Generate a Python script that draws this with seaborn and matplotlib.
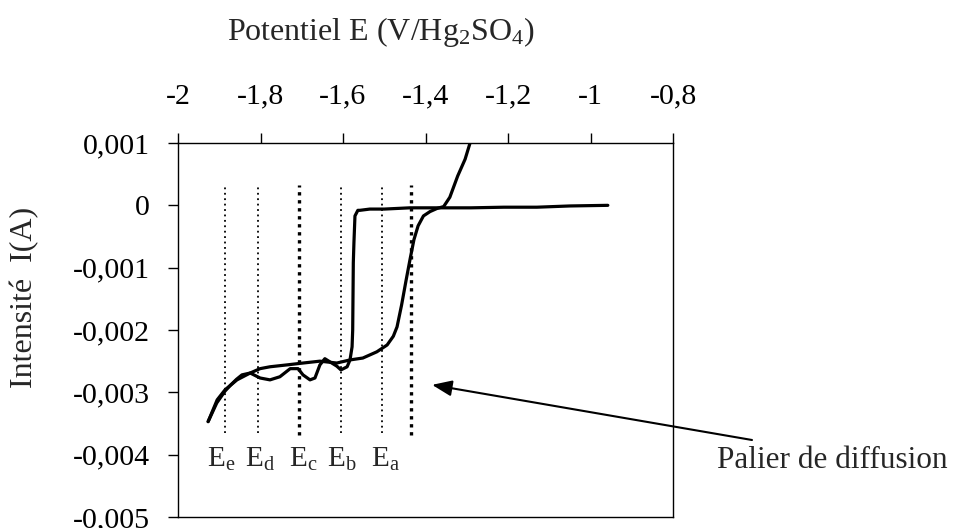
import numpy as np
import pandas as pd
import matplotlib
matplotlib.use("Agg")
import matplotlib.pyplot as plt
import seaborn as sns

# --- données ---------------------------------------------------------------
# balayage aller (de -0,96 V vers -1,93 V)
E_aller = [-0.958, -1.05, -1.13, -1.21, -1.29, -1.358, -1.438, -1.50, -1.535,
           -1.559, -1.564, -1.571, -1.5735, -1.575, -1.5765, -1.578, -1.583,
           -1.590, -1.605, -1.615, -1.632, -1.644, -1.656, -1.668, -1.680,
           -1.697, -1.709, -1.728, -1.753, -1.777, -1.801, -1.825, -1.845,
           -1.858, -1.872, -1.886, -1.906, -1.927]
I_aller = [0.0, -0.00001, -0.00003, -0.00003, -0.00004, -0.00004, -0.00004,
           -0.00006, -0.00006, -0.00008, -0.00008, -0.00017, -0.0006, -0.00092,
           -0.0020, -0.00227, -0.00248, -0.00259, -0.00264, -0.00258, -0.00251,
           -0.00246, -0.00256, -0.00277, -0.0028, -0.00272, -0.00262, -0.00262,
           -0.00275, -0.0028, -0.00277, -0.00269, -0.00272, -0.00279, -0.00288,
           -0.00298, -0.00317, -0.00347]

# balayage retour (de -1,93 V vers l'oxydation)
E_retour = [-1.927, -1.905, -1.886, -1.857, -1.825, -1.801, -1.777, -1.736,
            -1.697, -1.656, -1.615, -1.583, -1.552, -1.518, -1.493, -1.478,
            -1.469, -1.458, -1.447, -1.437, -1.428, -1.418, -1.405, -1.389,
            -1.372, -1.356, -1.341, -1.322, -1.304, -1.292, -1.278]
I_retour = [-0.00347, -0.00312, -0.00296, -0.0028, -0.00269, -0.00262,
            -0.00259, -0.00256, -0.00253, -0.0025, -0.00253, -0.00248,
            -0.00245, -0.00235, -0.00224, -0.00210, -0.00195, -0.0016,
            -0.0012, -0.00085, -0.00055, -0.00033, -0.00017, -0.0001,
            -0.00005, -0.00002, 0.00013, 0.00047, 0.00074, 0.001, 0.00115]

# potentiels imposés
E_fins = [-1.885, -1.805, -1.605, -1.505]
E_gras = [-1.707, -1.435]
noms_E = ["E$_e$", "E$_d$", "E$_c$", "E$_b$", "E$_a$"]
pos_noms_E = [-1.930, -1.838, -1.731, -1.639, -1.532]

x_ticks = [-2.0, -1.8, -1.6, -1.4, -1.2, -1.0, -0.8]
y_ticks = [-0.005, -0.004, -0.003, -0.002, -0.001, 0.0, 0.001]

df = pd.DataFrame({
    "E": E_aller + E_retour,
    "I": I_aller + I_retour,
    "balayage": ["aller"] * len(E_aller) + ["retour"] * len(E_retour),
})

# --- style -----------------------------------------------------------------
sns.set_theme(style="white")
plt.rcParams["font.family"] = ["Liberation Serif", "DejaVu Serif"]
plt.rcParams["mathtext.fontset"] = "custom"
plt.rcParams["mathtext.rm"] = "Liberation Serif"
plt.rcParams["mathtext.it"] = "Liberation Serif"
plt.rcParams["mathtext.default"] = "rm"
plt.rcParams["axes.unicode_minus"] = False

fig = plt.figure(figsize=(9.55, 5.28), dpi=100)
ax = fig.add_axes([178 / 955, 1 - 517 / 528, 495 / 955, (517 - 143) / 528])
ax.set_facecolor("white")

sns.lineplot(data=df, x="E", y="I", units="balayage", estimator=None,
             sort=False, color="black", linewidth=2.3, legend=False, ax=ax)

ax.vlines(E_fins, -0.00366, 0.00032, colors="black", linewidth=1.3,
          linestyles=[(0, (1, 2))])
ax.vlines(E_gras, -0.00369, 0.00033, colors="black", linewidth=2.4,
          linestyles=[(0, (1, 1.4))])

for nom, xe in zip(noms_E, pos_noms_E):
    ax.text(xe, -0.0042, nom, fontsize=21, ha="left", va="baseline")

ax.set_xlim(-2.0, -0.8)
ax.set_ylim(-0.005, 0.001)


def virgule(v):
    return "{:g}".format(v).replace(".", ",")


ax.set_xticks(x_ticks)
ax.set_xticklabels([virgule(v) for v in x_ticks])
ax.set_yticks(y_ticks)
ax.set_yticklabels([virgule(v) for v in y_ticks])
ax.xaxis.tick_top()
ax.tick_params(axis="x", which="both", top=True, bottom=False, direction="out",
               length=7, width=1, pad=17, labelsize=21.5, colors="black")
ax.tick_params(axis="y", left=True, right=False, direction="out",
               length=7, width=1, pad=13, labelsize=21.5, colors="black")
ax.set_xlabel("")
ax.set_ylabel("")
for sp in ax.spines.values():
    sp.set_visible(True)
    sp.set_color("black")
    sp.set_linewidth(1.0)

fig.text(381 / 955, 1 - 32 / 528, "Potentiel E (V/Hg$_2$SO$_4$)",
         fontsize=23, ha="center", va="center")
fig.text(25 / 955, 1 - 297 / 528, "Intensité  I(A)", fontsize=23,
         rotation=90, ha="center", va="center")

ax.annotate("", xy=(-1.384, -0.00288), xycoords="data",
            xytext=(752, 528 - 440), textcoords="figure pixels",
            annotation_clip=False,
            arrowprops=dict(arrowstyle="-|>,head_length=1.0,head_width=0.4",
                            color="black", lw=1.5, shrinkA=0, shrinkB=0))
fig.text(717 / 955, 1 - 468 / 528, "Palier de diffusion", fontsize=22.5,
         ha="left", va="baseline")

fig.savefig("out.png", dpi=100, facecolor="white")
